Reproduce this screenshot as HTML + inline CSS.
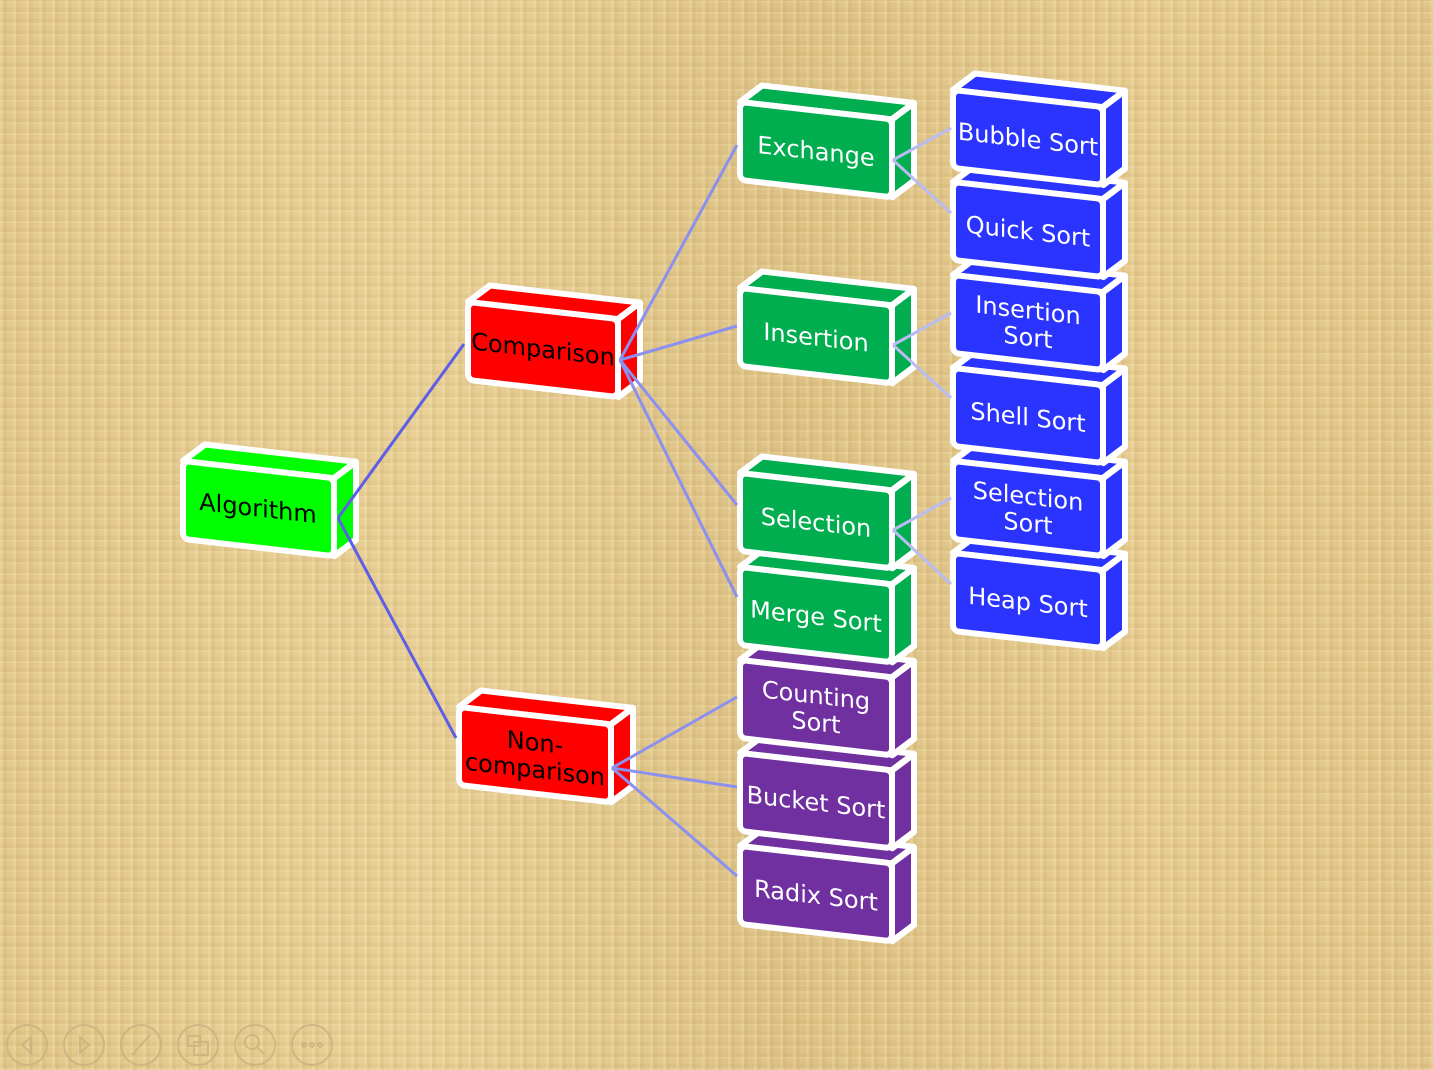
<!DOCTYPE html>
<html><head><meta charset="utf-8"><style>
html,body{margin:0;padding:0;width:1433px;height:1070px;overflow:hidden}
body{background:#e4c98e;background-image:
repeating-linear-gradient(90deg,rgba(255,240,200,.18) 0 3px,rgba(180,140,70,.10) 3px 7px,rgba(255,240,200,0) 7px 13px),
repeating-linear-gradient(0deg,rgba(255,240,200,.15) 0 2px,rgba(170,130,60,.08) 2px 6px,rgba(255,240,200,0) 6px 11px),
linear-gradient(90deg,#e2c88c,#e8d096 30%,#ddc286 55%,#e6cc90 80%,#e0c589);}
svg{position:absolute;left:0;top:0}
text{font-family:"DejaVu Sans","Liberation Sans",sans-serif;font-size:24px;text-anchor:middle}
.b path,.b rect{stroke:#fff;stroke-width:6;stroke-linejoin:round}
</style></head><body>
<svg width="1433" height="1070" viewBox="0 0 1433 1070">

<!-- blue column (bottom first) -->
<g class="b" fill="#2b34ff">
<g transform="translate(953,553) skewY(6.5)"><path d="M0,0 L22,-19 L172,-19 L150,0Z"/><path d="M150,0 L172,-19 L172,59 L150,78Z"/><rect width="150" height="78" rx="6"/><text x="75" y="49" fill="#fff" stroke="none">Heap Sort</text></g>
<g transform="translate(953,461) skewY(6.5)"><path d="M0,0 L22,-19 L172,-19 L150,0Z"/><path d="M150,0 L172,-19 L172,59 L150,78Z"/><rect width="150" height="78" rx="6"/><text x="75" y="35" fill="#fff" stroke="none">Selection</text><text x="75" y="62" fill="#fff" stroke="none">Sort</text></g>
<g transform="translate(953,368) skewY(6.5)"><path d="M0,0 L22,-19 L172,-19 L150,0Z"/><path d="M150,0 L172,-19 L172,59 L150,78Z"/><rect width="150" height="78" rx="6"/><text x="75" y="49" fill="#fff" stroke="none">Shell Sort</text></g>
<g transform="translate(953,275) skewY(6.5)"><path d="M0,0 L22,-19 L172,-19 L150,0Z"/><path d="M150,0 L172,-19 L172,59 L150,78Z"/><rect width="150" height="78" rx="6"/><text x="75" y="35" fill="#fff" stroke="none">Insertion</text><text x="75" y="62" fill="#fff" stroke="none">Sort</text></g>
<g transform="translate(953,182) skewY(6.5)"><path d="M0,0 L22,-19 L172,-19 L150,0Z"/><path d="M150,0 L172,-19 L172,59 L150,78Z"/><rect width="150" height="78" rx="6"/><text x="75" y="49" fill="#fff" stroke="none">Quick Sort</text></g>
<g transform="translate(953,90) skewY(6.5)"><path d="M0,0 L22,-19 L172,-19 L150,0Z"/><path d="M150,0 L172,-19 L172,59 L150,78Z"/><rect width="150" height="78" rx="6"/><text x="75" y="49" fill="#fff" stroke="none">Bubble Sort</text></g>
</g>

<!-- purple -->
<g class="b" fill="#7030a0">
<g transform="translate(740,846) skewY(6.5)"><path d="M0,0 L22,-19 L174,-19 L152,0Z"/><path d="M152,0 L174,-19 L174,59 L152,78Z"/><rect width="152" height="78" rx="6"/><text x="76" y="49" fill="#fff" stroke="none">Radix Sort</text></g>
<g transform="translate(740,753) skewY(6.5)"><path d="M0,0 L22,-19 L174,-19 L152,0Z"/><path d="M152,0 L174,-19 L174,59 L152,78Z"/><rect width="152" height="78" rx="6"/><text x="76" y="49" fill="#fff" stroke="none">Bucket Sort</text></g>
<g transform="translate(740,660) skewY(6.5)"><path d="M0,0 L22,-19 L174,-19 L152,0Z"/><path d="M152,0 L174,-19 L174,59 L152,78Z"/><rect width="152" height="78" rx="6"/><text x="76" y="35" fill="#fff" stroke="none">Counting</text><text x="76" y="62" fill="#fff" stroke="none">Sort</text></g>
</g>

<!-- green -->
<g class="b" fill="#00ad4f">
<g transform="translate(740,567) skewY(6.5)"><path d="M0,0 L22,-19 L174,-19 L152,0Z"/><path d="M152,0 L174,-19 L174,59 L152,78Z"/><rect width="152" height="78" rx="6"/><text x="76" y="49" fill="#fff" stroke="none">Merge Sort</text></g>
<g transform="translate(740,473) skewY(6.5)"><path d="M0,0 L22,-19 L174,-19 L152,0Z"/><path d="M152,0 L174,-19 L174,59 L152,78Z"/><rect width="152" height="78" rx="6"/><text x="76" y="49" fill="#fff" stroke="none">Selection</text></g>
<g transform="translate(740,288) skewY(6.5)"><path d="M0,0 L22,-19 L174,-19 L152,0Z"/><path d="M152,0 L174,-19 L174,59 L152,78Z"/><rect width="152" height="78" rx="6"/><text x="76" y="49" fill="#fff" stroke="none">Insertion</text></g>
<g transform="translate(740,102) skewY(6.5)"><path d="M0,0 L22,-19 L174,-19 L152,0Z"/><path d="M152,0 L174,-19 L174,59 L152,78Z"/><rect width="152" height="78" rx="6"/><text x="76" y="49" fill="#fff" stroke="none">Exchange</text></g>
</g>

<!-- red -->
<g class="b" fill="#ff0000">
<g transform="translate(468,302) skewY(6.5)"><path d="M0,0 L22,-19 L172,-19 L150,0Z"/><path d="M150,0 L172,-19 L172,59 L150,78Z"/><rect width="150" height="78" rx="6"/><text x="75" y="47" fill="#000" stroke="none">Comparison</text></g>
<g transform="translate(459,707) skewY(6.5)"><path d="M0,0 L22,-19 L174,-19 L152,0Z"/><path d="M152,0 L174,-19 L174,59 L152,78Z"/><rect width="152" height="78" rx="6"/><text x="76" y="35" fill="#000" stroke="none">Non-</text><text x="76" y="62" fill="#000" stroke="none">comparison</text></g>
</g>

<!-- algorithm -->
<g class="b" fill="#00ff00">
<g transform="translate(183,461) skewY(6.5)"><path d="M0,0 L22,-19 L173,-19 L151,0Z"/><path d="M151,0 L173,-19 L173,59 L151,78Z"/><rect width="151" height="78" rx="6"/><text x="75" y="47" fill="#000" stroke="none">Algorithm</text></g>
</g>

<!-- connectors on top -->
<g stroke-width="3" fill="none">
<line x1="338" y1="518" x2="464" y2="344" stroke="#5d5fe6"/>
<line x1="338" y1="518" x2="456" y2="738" stroke="#5d5fe6"/>
<g stroke="#8c90ee">
<line x1="620" y1="360" x2="737" y2="145"/>
<line x1="620" y1="360" x2="737" y2="326"/>
<line x1="620" y1="360" x2="737" y2="505"/>
<line x1="620" y1="360" x2="737" y2="597"/>
<line x1="612" y1="768" x2="737" y2="697"/>
<line x1="612" y1="768" x2="737" y2="787"/>
<line x1="612" y1="768" x2="737" y2="876"/>
</g>
<g stroke="#b9bcf0">
<line x1="893" y1="160" x2="951" y2="128"/>
<line x1="893" y1="160" x2="951" y2="213"/>
<line x1="893" y1="345" x2="951" y2="313"/>
<line x1="893" y1="345" x2="951" y2="398"/>
<line x1="893" y1="530" x2="951" y2="498"/>
<line x1="893" y1="530" x2="951" y2="584"/>
</g>
</g>

<!-- nav icons -->
<g fill="none" stroke="#c8b27e" stroke-width="2" opacity="0.8">
<circle cx="27" cy="1045" r="20"/><circle cx="84" cy="1045" r="20"/><circle cx="141" cy="1045" r="20"/>
<circle cx="198" cy="1045" r="20"/><circle cx="255" cy="1045" r="20"/><circle cx="312" cy="1045" r="20"/>
<path d="M31,1037 L22,1045 L31,1053Z"/><path d="M80,1037 L89,1045 L80,1053Z"/>
<path d="M132,1055 L150,1035"/><rect x="188" y="1036" width="12" height="10"/><rect x="194" y="1042" width="14" height="13"/>
<circle cx="252" cy="1042" r="7"/><path d="M257,1047 L264,1054"/>
<circle cx="304" cy="1045" r="2"/><circle cx="312" cy="1045" r="2"/><circle cx="320" cy="1045" r="2"/>
</g>
</svg>
</body></html>
